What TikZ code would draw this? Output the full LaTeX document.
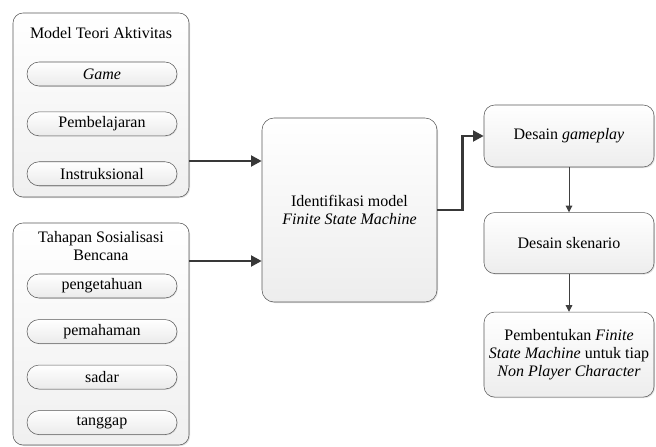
\documentclass[tikz,border=0pt]{standalone}
\usepackage{fontspec}
\setmainfont{Liberation Serif}
\usetikzlibrary{positioning,calc,arrows.meta,shadows,shapes.misc}
\tikzset{
    group/.style = {
        draw = black!65,
        rounded corners = 7.5pt,
        top color = white,
        bottom color = gray!12,
        drop shadow = {opacity=0.25, shadow xshift=0.8pt, shadow yshift=-0.8pt},
        minimum width = 132pt,
        },
    item/.style = {
        draw = black!65,
        rounded rectangle,
        top color = white,
        bottom color = gray!16,
        drop shadow = {opacity=0.2, shadow xshift=0.6pt, shadow yshift=-0.6pt},
        minimum width = 112.5pt,
        minimum height = 18pt,
        inner sep = 0pt,
        },
    process/.style = {
        draw = black!65,
        rounded corners = 8pt,
        top color = white,
        bottom color = gray!14,
        drop shadow = {opacity=0.25, shadow xshift=0.8pt, shadow yshift=-0.8pt},
        minimum width = 127.5pt,
        align = center,
        inner sep = 2pt,
        },
    link/.style = {
        draw = black!78,
        line width = 2pt,
        -{Triangle[length=8pt,width=8pt]},
        },
    flow/.style = {
        draw = black!75,
        line width = 0.75pt,
        -{Triangle[length=5pt,width=5pt]},
        },
}

\begin{document}
\begin{tikzpicture}[x=0.75pt, y=-0.75pt, font=\fontsize{12}{13.5}\selectfont]
    \useasboundingbox (0,0) rectangle (656,446);

    % left groups
    \node[group, minimum height=138pt] (model) at (101,105) {};
    \node (modeltitle) at (101,33) {Model Teori Aktivitas};
    \node[item] (m1) at (102,74) {\textit{Game}};
    \node[item, below=19pt of m1] (m2) {Pembelajaran};
    \node[item, below=19pt of m2] (m3) {Instruksional};

    \node[group, minimum height=166.5pt] (tahap) at (101,334) {};
    \node[align=center] (tahaptitle) at (101,246) {Tahapan Sosialisasi\\Bencana};
    \node[item] (t1) at (102,286) {pengetahuan};
    \node[item, below=15.75pt of t1] (t2) {pemahaman};
    \node[item, below=15.75pt of t2] (t3) {sadar};
    \node[item, below=15.75pt of t3] (t4) {tanggap};

    % middle and right
    \node[process, minimum width=131.25pt, minimum height=138pt, rounded corners=9pt]
        (ident) at (349.5,210) {Identifikasi model\\\textit{Finite State Machine}};
    \node[process, minimum height=46.5pt] (gameplay) at (569,136) {Desain \textit{gameplay}};
    \node[process, minimum height=45.75pt, below=33.75pt of gameplay] (skenario) {Desain skenario};
    \node[process, minimum height=63.75pt, below=28.5pt of skenario] (fsm)
        {Pembentukan \textit{Finite}\\\textit{State Machine} untuk tiap\\\textit{Non Player Character}};

    \coordinate (a1) at ($(model.east)+(0,56)$);
    \coordinate (a2) at ($(tahap.east)+(0,-73)$);
    \draw[link] (a1) -- (a1 -| ident.west);
    \draw[link] (a2) -- (a2 -| ident.west);
    \draw[link] (ident.east) -- ++(25,0) |- (gameplay.west);
    \draw[flow] (gameplay) -- (skenario);
    \draw[flow] (skenario) -- (fsm);
\end{tikzpicture}
\end{document}
